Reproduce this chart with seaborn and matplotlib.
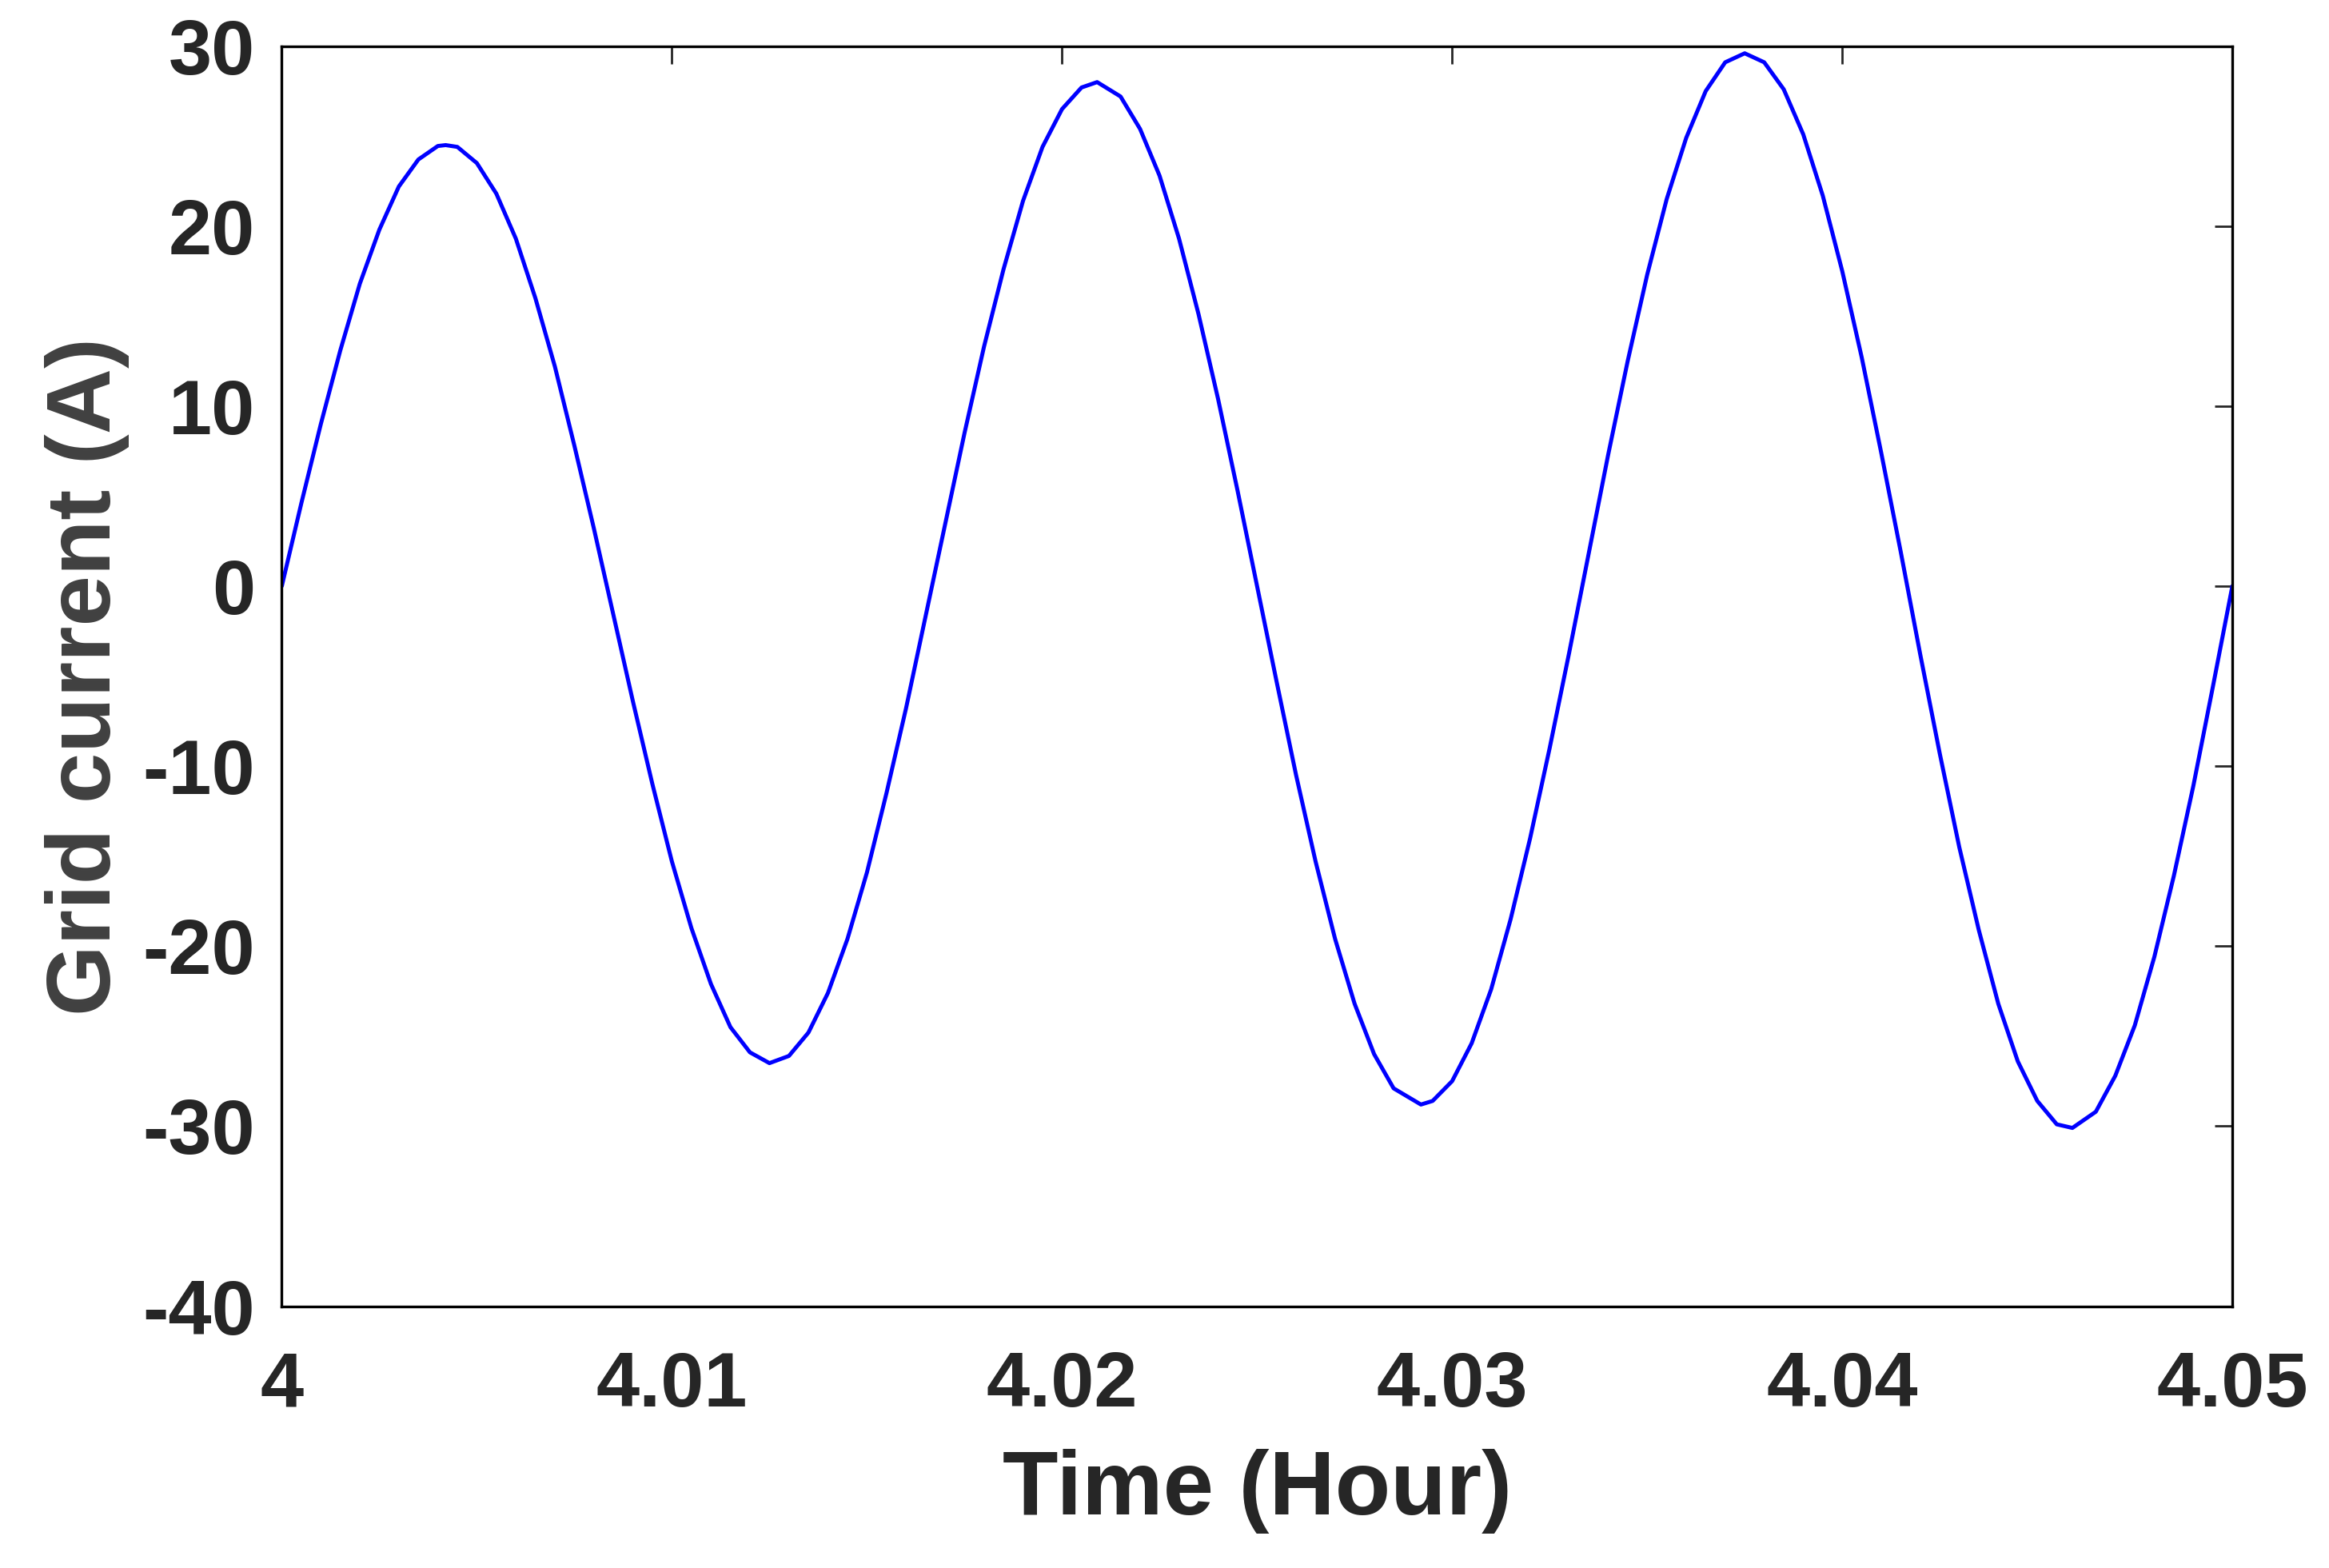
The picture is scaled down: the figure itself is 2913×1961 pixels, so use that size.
import pandas as pd
import matplotlib
matplotlib.use("Agg")
import matplotlib.pyplot as plt
import seaborn as sns

# values (every half millisecond of hour axis, plus peaks)
time_h = [4.0000, 4.0005, 4.0010, 4.0015, 4.0020, 4.0025, 4.0030, 4.0035, 4.0040, 4.0042,
          4.0045, 4.0050, 4.0055, 4.0060, 4.0065, 4.0070, 4.0075, 4.0080, 4.0085, 4.0090,
          4.0095, 4.0100, 4.0105, 4.0110, 4.0115, 4.0120, 4.0125, 4.0130, 4.0135, 4.0140,
          4.0145, 4.0150, 4.0155, 4.0160, 4.0165, 4.0170, 4.0175, 4.0180, 4.0185, 4.0190,
          4.0195, 4.0200, 4.0205, 4.0209, 4.0215, 4.0220, 4.0225, 4.0230, 4.0235, 4.0240,
          4.0245, 4.0250, 4.0255, 4.0260, 4.0265, 4.0270, 4.0275, 4.0280, 4.0285, 4.0292,
          4.0295, 4.0300, 4.0305, 4.0310, 4.0315, 4.0320, 4.0325, 4.0330, 4.0335, 4.0340,
          4.0345, 4.0350, 4.0355, 4.0360, 4.0365, 4.0370, 4.0375, 4.0380, 4.0385, 4.0390,
          4.0395, 4.0400, 4.0405, 4.0410, 4.0415, 4.0420, 4.0425, 4.0430, 4.0435, 4.0440,
          4.0445, 4.0450, 4.0455, 4.0459, 4.0465, 4.0470, 4.0475, 4.0480, 4.0485, 4.0490,
          4.0495, 4.0500]
current_a = [0.0, 4.6, 9.0, 13.1, 16.8, 19.8, 22.2, 23.7, 24.45, 24.5,
             24.4, 23.5, 21.8, 19.3, 16.0, 12.2, 7.8, 3.2, -1.6, -6.4,
             -11.0, -15.3, -19.0, -22.1, -24.5, -25.9, -26.5, -26.1, -24.8, -22.6,
             -19.6, -15.9, -11.5, -6.8, -1.7, 3.4, 8.5, 13.3, 17.6, 21.4,
             24.4, 26.5, 27.7, 28.0, 27.2, 25.4, 22.8, 19.3, 15.1, 10.4,
             5.3, 0.0, -5.3, -10.5, -15.3, -19.6, -23.2, -26.0, -27.9, -28.8,
             -28.6, -27.5, -25.4, -22.4, -18.5, -14.0, -9.0, -3.7, 1.8, 7.3,
             12.5, 17.3, 21.5, 24.9, 27.5, 29.1, 29.6, 29.1, 27.6, 25.1,
             21.7, 17.5, 12.7, 7.4, 1.9, -3.8, -9.3, -14.5, -19.1, -23.2,
             -26.4, -28.6, -29.9, -30.1, -29.2, -27.2, -24.4, -20.6, -16.1, -11.1,
             -5.6, 0.0]

df = pd.DataFrame({"time": time_h, "current": current_a})

sns.set_theme(style="white")
plt.rcParams["font.family"] = ["Liberation Sans", "DejaVu Sans"]
plt.rcParams["font.weight"] = "bold"
plt.rcParams["axes.unicode_minus"] = False

fig = plt.figure(figsize=(14.565, 9.805), dpi=200)
ax = fig.add_axes([0.121, 0.167, 0.8375, 0.8036])

sns.lineplot(data=df, x="time", y="current", ax=ax, color="#0000FF", linewidth=1.8)

ax.set_xlim(4, 4.05)
ax.set_ylim(-40, 30)
ax.set_xticks([4, 4.01, 4.02, 4.03, 4.04, 4.05])
ax.set_xticklabels(["4", "4.01", "4.02", "4.03", "4.04", "4.05"])
ax.set_yticks(range(-40, 31, 10))
ax.tick_params(direction="in", length=8, width=1, top=True, right=True,
               labelsize=35, labelcolor="#262626")
ax.tick_params(axis="x", pad=20)
ax.tick_params(axis="y", pad=12)
for lab in ax.get_xticklabels() + ax.get_yticklabels():
    lab.set_fontweight("bold")
for s in ax.spines.values():
    s.set_color("black")
    s.set_linewidth(1.2)

ax.set_xlabel("Time (Hour)", fontsize=41, fontweight="bold", color="#262626", labelpad=12)
ax.set_ylabel("Grid current (A)", fontsize=41, fontweight="bold", color="#404040", labelpad=6)

fig.savefig("out.png", dpi=200)
